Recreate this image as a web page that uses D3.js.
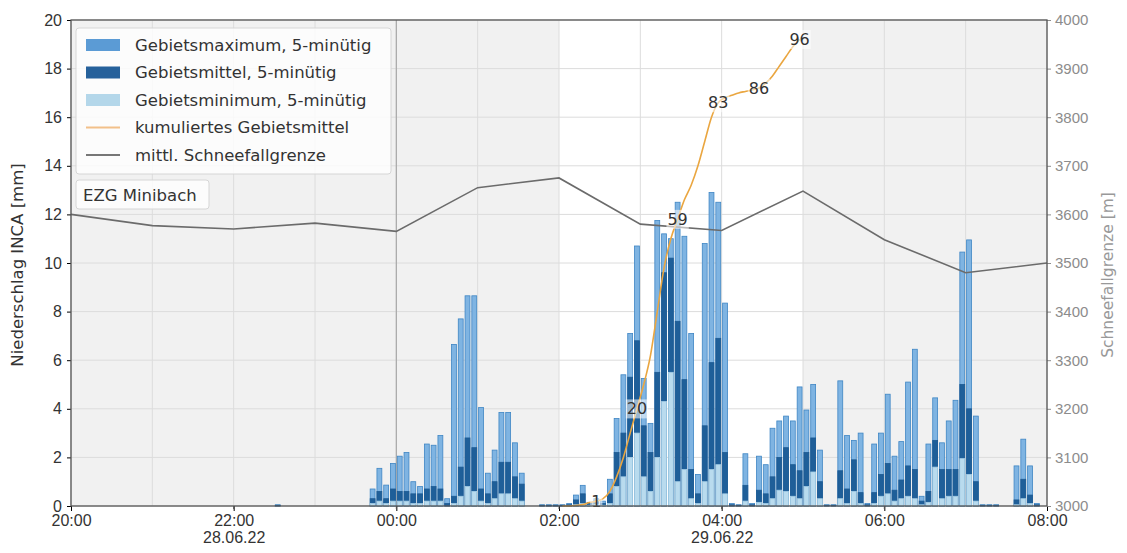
<!DOCTYPE html>
<html>
<head>
<meta charset="utf-8">
<script src="https://cdn.jsdelivr.net/npm/d3@7"></script>
<style>
  body { margin: 0; background: #fff; }
  svg { font-family: "DejaVu Sans", sans-serif; }
</style>
</head>
<body>
<svg id="chart" width="1127" height="553"></svg>
<script>
// 5-minute slots from 28.06.22 20:00 to 29.06.22 07:55, one hour per row
const start = new Date(2022, 5, 28, 20, 0);
const end = new Date(2022, 5, 29, 8, 0);

const maxVals = [
  0, 0, 0, 0, 0, 0, 0, 0, 0, 0, 0, 0,
  0, 0, 0, 0, 0, 0, 0, 0, 0, 0, 0, 0,
  0, 0, 0, 0, 0, 0, 0.05, 0, 0, 0, 0, 0,
  0, 0, 0, 0, 0, 0, 0, 0, 0.7, 1.55, 0.86, 1.75,
  2.05, 2.2, 1.0, 0.8, 2.55, 2.5, 2.9, 0.3, 6.65, 7.7, 8.65, 8.65,
  4.05, 1.35, 2.3, 3.85, 3.85, 2.6, 1.35, 0, 0, 0.05, 0.05, 0.05,
  0.05, 0.1, 0.45, 0.85, 0.15, 0.3, 0.2, 1.1, 3.6, 5.4, 7.1, 10.7,
  5.25, 3.4, 11.75, 11.2, 11.0, 12.5, 11.1, 7.1, 1.3, 10.8, 12.9, 12.5,
  8.35, 0.1, 0.05, 2.15, 0.1, 2.05, 1.7, 3.2, 3.5, 3.7, 3.5, 4.9,
  3.95, 5.0, 2.3, 0.05, 0.05, 5.15, 2.9, 2.7, 3.0, 0.1, 2.55, 3.0,
  4.6, 2.05, 2.65, 5.1, 6.45, 0.4, 2.55, 4.45, 2.6, 3.5, 4.35, 10.45,
  10.95, 3.7, 0.05, 0.05, 0.05, 0, 0, 1.65, 2.75, 1.65, 0.1, 0
];

const meanVals = [
  0, 0, 0, 0, 0, 0, 0, 0, 0, 0, 0, 0,
  0, 0, 0, 0, 0, 0, 0, 0, 0, 0, 0, 0,
  0, 0, 0, 0, 0, 0, 0.03, 0, 0, 0, 0, 0,
  0, 0, 0, 0, 0, 0, 0, 0, 0.3, 0.6, 0.3, 0.7,
  0.6, 0.6, 0.5, 0.5, 0.7, 0.8, 0.7, 0.1, 0.4, 1.6, 2.8, 2.4,
  0.7, 0.5, 1.0, 1.8, 1.8, 1.2, 0.9, 0, 0, 0.03, 0.03, 0.03,
  0.03, 0.05, 0.25, 0.5, 0.1, 0.2, 0.1, 0.5, 2.2, 3.0, 5.3, 6.8,
  3.3, 2.2, 5.5, 9.6, 10.2, 7.6, 5.2, 1.5, 0.5, 3.3, 5.9, 6.9,
  2.2, 0.05, 0.03, 0.85, 0.05, 0.65, 0.5, 1.2, 2.0, 2.4, 1.7, 1.45,
  2.2, 2.8, 1.0, 0.03, 0.03, 1.45, 0.7, 1.9, 0.55, 0.05, 0.55, 1.3,
  1.75, 0.65, 1.07, 1.65, 1.5, 0.2, 0.6, 2.7, 1.5, 1.5, 1.5, 5.0,
  4.0, 1.0, 0.03, 0.03, 0.03, 0, 0, 0.25, 1.1, 0.45, 0.05, 0
];

const minVals = [
  0, 0, 0, 0, 0, 0, 0, 0, 0, 0, 0, 0,
  0, 0, 0, 0, 0, 0, 0, 0, 0, 0, 0, 0,
  0, 0, 0, 0, 0, 0, 0, 0, 0, 0, 0, 0,
  0, 0, 0, 0, 0, 0, 0, 0, 0.1, 0.2, 0.1, 0.2,
  0.2, 0.2, 0.1, 0.1, 0.2, 0.2, 0.2, 0, 0.1, 0.4, 0.8, 0.6,
  0.2, 0.1, 0.3, 0.5, 0.5, 0.3, 0.2, 0, 0, 0, 0, 0,
  0, 0, 0.05, 0.1, 0.03, 0.05, 0.03, 0.1, 0.8, 1.2, 2.0, 3.0,
  1.2, 0.6, 2.0, 4.3, 5.5, 1.0, 1.5, 0.3, 0.1, 1.0, 1.5, 1.7,
  0.5, 0, 0, 0.2, 0, 0.15, 0.1, 0.3, 0.65, 0.6, 0.4, 0.3,
  0.8, 1.4, 0.3, 0, 0, 0.3, 0.1, 0.6, 0.1, 0, 0.1, 0.4,
  0.5, 0.2, 0.3, 0.4, 0.3, 0.05, 0.15, 1.6, 0.3, 0.4, 0.4, 1.95,
  1.3, 0.2, 0, 0, 0, 0, 0, 0.05, 0.3, 0.1, 0, 0
];

// cumulated area mean [mm], 5-minute steps from 02:00 to 04:55
const cumStart = new Date(2022, 5, 29, 2, 0);
const cumVals = [
  0, 0, 0.1, 0.3, 0.7, 1, 1.5, 3, 6, 10, 15, 20,
  25, 31, 40, 49, 55, 59, 63, 66, 70, 75, 80, 83,
  84, 84.5, 85, 85.3, 85.6, 86, 87, 88.5, 90.5, 92.5, 94.5, 96
];
const cumLabelIdx = [5, 11, 17, 23, 29, 35];

// mean snowfall line, hourly
const snowVals = [3600, 3577, 3570, 3582, 3565, 3655, 3675, 3580, 3567, 3648, 3548, 3480, 3500];

// shaded periods (outside of the event window)
const shadeSpans = [
  [new Date(2022, 5, 28, 20, 0), new Date(2022, 5, 29, 2, 0)],
  [new Date(2022, 5, 29, 5, 0), new Date(2022, 5, 29, 8, 0)]
];

const dateLabels = { "22:00": "28.06.22", "04:00": "29.06.22" };

const legendItems = [
  { label: "Gebietsmaximum, 5-minütig", type: "patch", color: "#5b9bd5" },
  { label: "Gebietsmittel, 5-minütig", type: "patch", color: "#26619b" },
  { label: "Gebietsminimum, 5-minütig", type: "patch", color: "#b4d7ea" },
  { label: "kumuliertes Gebietsmittel", type: "line", color: "#f2c08a" },
  { label: "mittl. Schneefallgrenze", type: "line", color: "#777" }
];

const margin = { left: 71, right: 80, top: 20, bottom: 47 };
const W = 1127, H = 553;
const iw = W - margin.left - margin.right, ih = H - margin.top - margin.bottom;

const svg = d3.select('#chart');
const g = svg.append('g').attr('transform', `translate(${margin.left},${margin.top})`);

const x = d3.scaleTime().domain([start, end]).range([0, iw]);
const y = d3.scaleLinear().domain([0, 20]).range([ih, 0]);
const y2 = d3.scaleLinear().domain([3000, 4000]).range([ih, 0]);
const yc = d3.scaleLinear().domain([0, 100]).range([ih, 0]);

const slotTime = i => d3.timeMinute.offset(start, i * 5);
const slotW = x(slotTime(1)) - x(slotTime(0));
const barW = slotW * 0.72;

// background
g.selectAll('.shade')
  .data(shadeSpans)
  .enter().append('rect')
  .attr('x', d => x(d[0]))
  .attr('width', d => x(d[1]) - x(d[0]))
  .attr('y', 0)
  .attr('height', ih)
  .attr('fill', '#f1f1f1');

// grid
const hours = d3.timeHour.range(start, d3.timeHour.offset(end, 1));
g.append('g').selectAll('line')
  .data(hours)
  .enter().append('line')
  .attr('x1', d => x(d)).attr('x2', d => x(d))
  .attr('y1', 0).attr('y2', ih)
  .attr('stroke', '#dcdcdc').attr('stroke-width', 1);
g.append('g').selectAll('line')
  .data(y.ticks(10))
  .enter().append('line')
  .attr('x1', 0).attr('x2', iw)
  .attr('y1', d => y(d)).attr('y2', d => y(d))
  .attr('stroke', '#dcdcdc').attr('stroke-width', 1);

// day boundary
const midnight = new Date(2022, 5, 29, 0, 0);
g.append('line')
  .attr('x1', x(midnight)).attr('x2', x(midnight))
  .attr('y1', 0).attr('y2', ih)
  .attr('stroke', '#a8a8a8').attr('stroke-width', 1.2);

// bars: max, mean, min (min drawn on top)
function drawBars(vals, fill, stroke) {
  g.append('g').selectAll('rect')
    .data(vals.map((v, i) => ({ v, i })).filter(d => d.v > 0))
    .enter().append('rect')
    .attr('x', d => x(slotTime(d.i)) + (slotW - barW) / 2)
    .attr('width', barW)
    .attr('y', d => y(d.v))
    .attr('height', d => ih - y(d.v))
    .attr('fill', fill)
    .attr('stroke', stroke)
    .attr('stroke-width', 0.8);
}
drawBars(maxVals, '#7fb4e2', '#3f86c4');
drawBars(meanVals, '#1f5f99', '#1d5a92');
drawBars(minVals, '#b9dbee', '#a3cde6');

// snowfall line (right axis)
const snowLine = d3.line()
  .x((d, i) => x(d3.timeHour.offset(start, i)))
  .y(d => y2(d));
g.append('path')
  .datum(snowVals)
  .attr('d', snowLine)
  .attr('fill', 'none')
  .attr('stroke', '#6b6b6b')
  .attr('stroke-width', 1.6);

// cumulated mean line
const cumX = i => x(d3.timeMinute.offset(cumStart, i * 5)) + slotW / 2;
const cumLine = d3.line()
  .x((d, i) => cumX(i))
  .y(d => yc(d))
  .curve(d3.curveMonotoneX);
g.append('path')
  .datum(cumVals)
  .attr('d', cumLine)
  .attr('fill', 'none')
  .attr('stroke', '#eaa640')
  .attr('stroke-width', 1.6);

const cumLabels = g.append('g').selectAll('g')
  .data(cumLabelIdx)
  .enter().append('g');
cumLabels.append('text')
  .attr('x', d => cumX(d))
  .attr('y', d => yc(cumVals[d]))
  .attr('dy', '0.35em')
  .attr('text-anchor', 'middle')
  .attr('font-size', 16)
  .attr('fill', '#333')
  .text(d => Math.round(cumVals[d]));
cumLabels.each(function () {
  const t = d3.select(this).select('text');
  const b = t.node().getBBox();
  d3.select(this).insert('rect', 'text')
    .attr('x', b.x - 1).attr('y', b.y)
    .attr('width', b.width + 2).attr('height', b.height)
    .attr('fill', '#fff').attr('opacity', 0.55);
});

// axes
const xAxis = g.append('g')
  .attr('transform', `translate(0,${ih})`)
  .call(d3.axisBottom(x)
    .tickValues(d3.timeHour.every(2).range(start, d3.timeMinute.offset(end, 1)))
    .tickFormat(d3.timeFormat('%H:%M'))
    .tickSize(5).tickPadding(4));
xAxis.selectAll('text')
  .attr('font-size', 16).attr('fill', '#333')
  .each(function () {
    const t = d3.select(this);
    const lbl = t.text();
    if (dateLabels[lbl]) {
      t.text(null);
      t.append('tspan').attr('x', 0).text(lbl);
      t.append('tspan').attr('x', 0).attr('dy', '1.05em').text(dateLabels[lbl]);
    }
  });
g.append('g')
  .attr('transform', `translate(0,${ih})`)
  .selectAll('line')
  .data(d3.timeHour.every(2).range(d3.timeHour.offset(start, 1), end))
  .enter().append('line')
  .attr('x1', d => x(d)).attr('x2', d => x(d))
  .attr('y1', 0).attr('y2', 3)
  .attr('stroke', '#555');

const yAxis = g.append('g')
  .call(d3.axisLeft(y).ticks(10).tickSize(4).tickPadding(5));
yAxis.selectAll('text').attr('font-size', 16).attr('fill', '#333');

const yAxis2 = g.append('g')
  .attr('transform', `translate(${iw},0)`)
  .call(d3.axisRight(y2).ticks(10).tickFormat(d3.format('d')).tickSize(4).tickPadding(4));
yAxis2.selectAll('text').attr('font-size', 15).attr('fill', '#8c8c8c');
yAxis2.selectAll('line').attr('stroke', '#8c8c8c');

[xAxis, yAxis, yAxis2].forEach(a => a.select('.domain').remove());

// frame
g.append('rect')
  .attr('width', iw).attr('height', ih)
  .attr('fill', 'none')
  .attr('stroke', '#555')
  .attr('stroke-width', 1.3);

// axis titles
svg.append('text')
  .attr('transform', `translate(23,${margin.top + ih / 2 + 2}) rotate(-90)`)
  .attr('text-anchor', 'middle')
  .attr('font-size', 16.5)
  .attr('fill', '#333')
  .text('Niederschlag INCA [mm]');
svg.append('text')
  .attr('transform', `translate(1113,${margin.top + ih / 2 + 12}) rotate(-90)`)
  .attr('text-anchor', 'middle')
  .attr('font-size', 15.5)
  .attr('fill', '#999')
  .text('Schneefallgrenze [m]');

// legend
const leg = g.append('g').attr('transform', 'translate(5,8)');
leg.append('rect')
  .attr('width', 315).attr('height', 146)
  .attr('rx', 3)
  .attr('fill', '#fff').attr('fill-opacity', 0.8)
  .attr('stroke', '#d6d6d6');
const rows = leg.selectAll('.row')
  .data(legendItems)
  .enter().append('g')
  .attr('transform', (d, i) => `translate(10,${17 + i * 27.5})`);
rows.filter(d => d.type === 'patch').append('rect')
  .attr('x', 0).attr('y', -6).attr('width', 34).attr('height', 12)
  .attr('fill', d => d.color);
rows.filter(d => d.type === 'line').append('line')
  .attr('x1', 0).attr('x2', 34)
  .attr('stroke', d => d.color).attr('stroke-width', 2);
rows.append('text')
  .attr('x', 49).attr('dy', '0.35em')
  .attr('font-size', 16.5).attr('fill', '#333')
  .text(d => d.label);

// catchment label
const ezg = g.append('g').attr('transform', 'translate(5,160)');
ezg.append('rect')
  .attr('width', 133).attr('height', 29).attr('rx', 3)
  .attr('fill', '#fff').attr('fill-opacity', 0.8)
  .attr('stroke', '#d6d6d6');
ezg.append('text')
  .attr('x', 7).attr('y', 15).attr('dy', '0.35em')
  .attr('font-size', 16.5).attr('fill', '#333')
  .text('EZG Minibach');
</script>
</body>
</html>
